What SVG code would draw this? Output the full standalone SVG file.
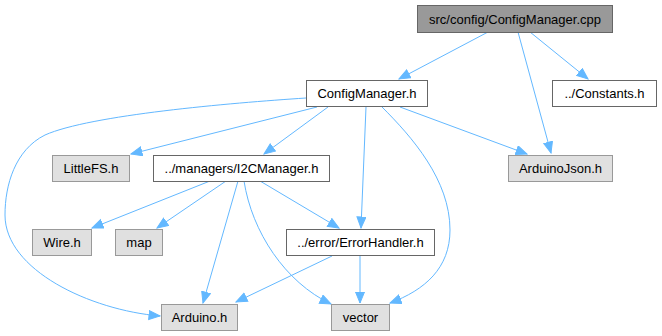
<svg xmlns="http://www.w3.org/2000/svg" width="662" height="336" viewBox="0 0 662 336">
  <style>
    .box rect { stroke-width: 1; }
    .root rect { fill: #999999; stroke: #666666; }
    .local rect { fill: #ffffff; stroke: #666666; }
    .ext rect { fill: #e0e0e0; stroke: #999999; }
    text { font-family: "Liberation Sans", Arial, sans-serif; font-size: 13px; fill: #000000; text-anchor: middle; }
    .edges path { fill: none; stroke: #63b8ff; stroke-width: 1; marker-end: url(#arrow); }
  </style>
  <defs>
    <marker id="arrow" markerUnits="userSpaceOnUse" markerWidth="13" markerHeight="11" refX="11.5" refY="5" orient="auto">
      <path d="M0.5,0.5 L11.5,5 L0.5,9.5 z" fill="#63b8ff" stroke="#63b8ff" stroke-width="1"/>
    </marker>
  </defs>
  <rect width="662" height="336" fill="#ffffff"/>

  <!-- include dependency edges -->
  <g id="edges" class="edges">
    <path d="M488,32 L399,79"/>
    <path d="M518,32 L551,153"/>
    <path d="M530,32 L588,79"/>
    <path d="M306,98 C230,103 90,115 45,135 C15,150 5,185 5,215 C5,270 90,310 160,316"/>
    <path d="M317,107 L131,154"/>
    <path d="M328,107 L264,154"/>
    <path d="M366,107 L361,228"/>
    <path d="M382,107 C412,137 450,180 450,230 C450,268 425,290 390,303"/>
    <path d="M400,107 L527,154"/>
    <path d="M210,181 L92,228"/>
    <path d="M226,181 L157,228"/>
    <path d="M238,181 L203,303"/>
    <path d="M244,181 C252,232 285,282 331,304"/>
    <path d="M260,181 L339,228"/>
    <path d="M332,256 L236,302"/>
    <path d="M360,256 L360,303"/>
  </g>

  <g id="node_cpp" class="box root">
    <rect x="417.5" y="5.5" width="195" height="27"/>
    <text x="515" y="23.5">src/config/ConfigManager.cpp</text>
  </g>
  <g id="node_configmanager_h" class="box local">
    <rect x="306.5" y="80.5" width="121" height="26"/>
    <text x="367" y="98">ConfigManager.h</text>
  </g>
  <g id="node_constants_h" class="box local">
    <rect x="552.5" y="80.5" width="104" height="26"/>
    <text x="604.5" y="98">../Constants.h</text>
  </g>
  <g id="node_littlefs_h" class="box ext">
    <rect x="52.5" y="155.5" width="77" height="26"/>
    <text x="91" y="173">LittleFS.h</text>
  </g>
  <g id="node_i2cmanager_h" class="box local">
    <rect x="153.5" y="155.5" width="176" height="26"/>
    <text x="241.5" y="173">../managers/I2CManager.h</text>
  </g>
  <g id="node_arduinojson_h" class="box ext">
    <rect x="508.5" y="155.5" width="104" height="26"/>
    <text x="560.5" y="173">ArduinoJson.h</text>
  </g>
  <g id="node_wire_h" class="box ext">
    <rect x="32.5" y="229.5" width="59" height="26"/>
    <text x="62" y="247">Wire.h</text>
  </g>
  <g id="node_map" class="box ext">
    <rect x="115.5" y="229.5" width="47" height="26"/>
    <text x="139" y="247">map</text>
  </g>
  <g id="node_errorhandler_h" class="box local">
    <rect x="286.5" y="229.5" width="148" height="26"/>
    <text x="360.5" y="247">../error/ErrorHandler.h</text>
  </g>
  <g id="node_arduino_h" class="box ext">
    <rect x="161.5" y="304.5" width="76" height="26"/>
    <text x="199.5" y="322">Arduino.h</text>
  </g>
  <g id="node_vector" class="box ext">
    <rect x="331.5" y="304.5" width="58" height="26"/>
    <text x="360.5" y="322">vector</text>
  </g>
</svg>
